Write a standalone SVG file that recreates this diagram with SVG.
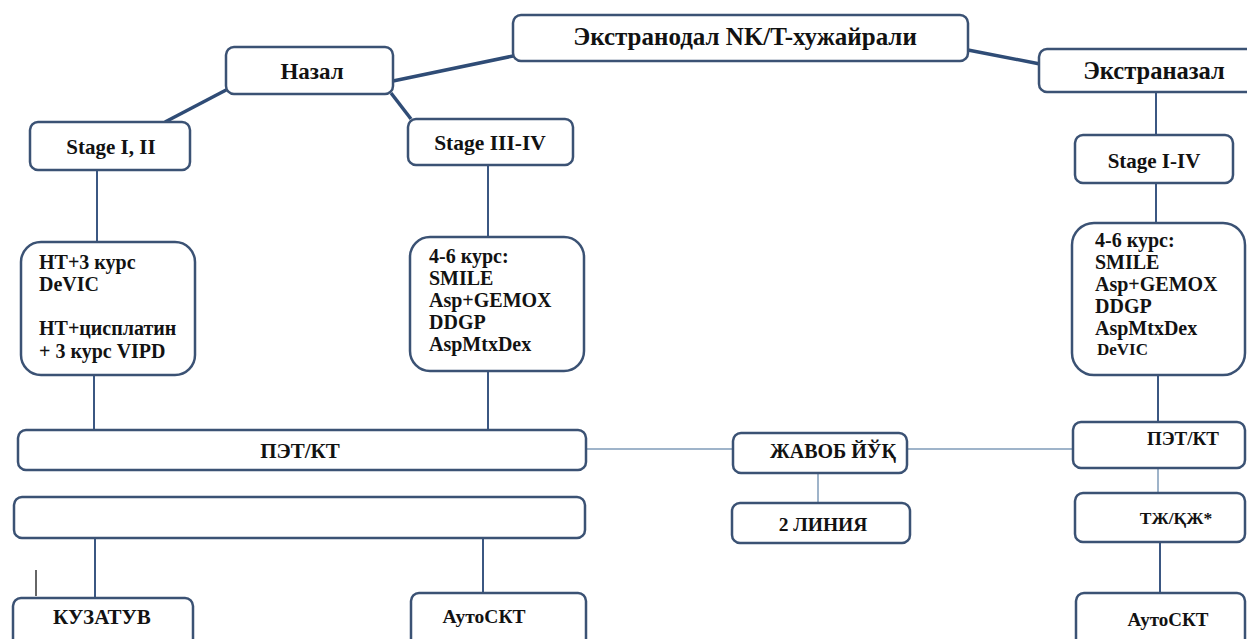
<svg xmlns="http://www.w3.org/2000/svg" width="1247" height="639" viewBox="0 0 1247 639">
  <style>
    .box { fill: #ffffff; stroke: #3b5274; stroke-width: 2.5; }
    .lbl { font-family: "Liberation Serif", "Times New Roman", serif; font-weight: bold; fill: #121212; }
    .c { text-anchor: middle; }
    .thick { stroke: #2f4c76; stroke-width: 3.5; fill: none; }
    .thin { stroke: #3b5782; stroke-width: 2; fill: none; }
    .light { stroke: #9fb4ca; stroke-width: 2; fill: none; }
  </style>
  <rect width="1247" height="639" fill="#ffffff"/>

  <!-- connectors -->
  <g id="connectors">
    <line class="thick" x1="393" y1="81" x2="513" y2="56"/>
    <line class="thick" x1="968" y1="50" x2="1040" y2="64"/>
    <line class="thick" x1="228" y1="89" x2="165" y2="122"/>
    <line class="thick" x1="391" y1="93" x2="411" y2="119"/>
    <line class="thin" x1="97" y1="170" x2="97" y2="242"/>
    <line class="thin" x1="488" y1="165" x2="488" y2="237"/>
    <line class="thin" x1="1156" y1="92" x2="1156" y2="135"/>
    <line class="thin" x1="1156" y1="183" x2="1156" y2="223"/>
    <line class="thin" x1="94" y1="375" x2="94" y2="430"/>
    <line class="thin" x1="488" y1="371" x2="488" y2="430"/>
    <line class="thin" x1="1158" y1="375" x2="1158" y2="422"/>
    <line class="light" x1="586" y1="449" x2="733" y2="449"/>
    <line class="light" x1="907" y1="449" x2="1073" y2="449"/>
    <line class="light" x1="818" y1="473" x2="818" y2="503"/>
    <line class="light" x1="1158" y1="468" x2="1158" y2="493"/>
    <line class="thin" x1="1160" y1="542" x2="1160" y2="593"/>
    <line class="thin" x1="95" y1="538" x2="95" y2="598"/>
    <line class="thin" x1="483" y1="538" x2="483" y2="593"/>
    <line stroke="#333333" stroke-width="1.5" x1="36" y1="570" x2="36" y2="596"/>
  </g>

  <g id="n-extranodal">
    <rect class="box" x="513" y="15" width="455" height="46" rx="8"/>
    <text class="lbl c" x="745" y="45" font-size="25">Экстранодал NK/T-хужайрали</text>
  </g>
  <g id="n-nasal">
    <rect class="box" x="226" y="47" width="167" height="47" rx="8"/>
    <text class="lbl c" x="312" y="79" font-size="23">Назал</text>
  </g>
  <g id="n-extranasal">
    <rect class="box" x="1039" y="49" width="220" height="43" rx="8"/>
    <text class="lbl c" x="1154" y="79" font-size="24.5">Экстраназал</text>
  </g>
  <g id="n-stage12">
    <rect class="box" x="30" y="122" width="160" height="48" rx="8"/>
    <text class="lbl c" x="111" y="154" font-size="21">Stage I, II</text>
  </g>
  <g id="n-stage34">
    <rect class="box" x="408" y="119" width="165" height="46" rx="8"/>
    <text class="lbl c" x="490" y="150" font-size="21.5">Stage III-IV</text>
  </g>
  <g id="n-stage14">
    <rect class="box" x="1075" y="135" width="158" height="48" rx="8"/>
    <text class="lbl c" x="1154" y="168" font-size="21">Stage I-IV</text>
  </g>

  <g id="n-rt-chemo">
    <rect class="box" x="21" y="242" width="174" height="133" rx="20"/>
    <text class="lbl" font-size="20">
      <tspan x="39" y="269">НТ+3 курс</tspan>
      <tspan x="39" y="291">DeVIC</tspan>
      <tspan x="39" y="335">НТ+цисплатин</tspan>
      <tspan x="39" y="358">+ 3 курс VIPD</tspan>
    </text>
  </g>
  <g id="n-regimens-nasal">
    <rect class="box" x="410" y="237" width="174" height="134" rx="20"/>
    <text class="lbl" font-size="20">
      <tspan x="429" y="263">4-6 курс:</tspan>
      <tspan x="429" y="285">SMILE</tspan>
      <tspan x="429" y="307">Asp+GEMOX</tspan>
      <tspan x="429" y="329">DDGP</tspan>
      <tspan x="429" y="351">AspMtxDex</tspan>
    </text>
  </g>
  <g id="n-regimens-extranasal">
    <rect class="box" x="1072" y="223" width="173" height="152" rx="22"/>
    <text class="lbl" font-size="20">
      <tspan x="1095" y="247">4-6 курс:</tspan>
      <tspan x="1095" y="269">SMILE</tspan>
      <tspan x="1095" y="291">Asp+GEMOX</tspan>
      <tspan x="1095" y="313">DDGP</tspan>
      <tspan x="1095" y="335">AspMtxDex</tspan>
      <tspan x="1097" y="355" font-size="17">DeVIC</tspan>
    </text>
  </g>

  <g id="n-pet-left">
    <rect class="box" x="18" y="430" width="568" height="40" rx="8"/>
    <text class="lbl c" x="300" y="458" font-size="21">ПЭТ/КТ</text>
  </g>
  <g id="n-empty">
    <rect class="box" x="14" y="497" width="571" height="41" rx="8"/>
  </g>
  <g id="n-followup">
    <rect class="box" x="13" y="598" width="180" height="50" rx="8"/>
    <text class="lbl c" x="102" y="624" font-size="21">КУЗАТУВ</text>
  </g>
  <g id="n-autosct-left">
    <rect class="box" x="411" y="593" width="175" height="55" rx="8"/>
    <text class="lbl c" x="484" y="623" font-size="19.5">АутоСКТ</text>
  </g>

  <g id="n-noresponse">
    <rect class="box" x="733" y="433" width="174" height="40" rx="8"/>
    <text class="lbl c" x="833" y="458" font-size="20">ЖАВОБ ЙЎҚ</text>
  </g>
  <g id="n-second-line">
    <rect class="box" x="732" y="503" width="178" height="40" rx="8"/>
    <text class="lbl c" x="823" y="531" font-size="19.5">2 ЛИНИЯ</text>
  </g>

  <g id="n-pet-right">
    <rect class="box" x="1073" y="422" width="172" height="46" rx="8"/>
    <text class="lbl c" x="1183" y="445" font-size="19">ПЭТ/КТ</text>
  </g>
  <g id="n-response">
    <rect class="box" x="1075" y="493" width="170" height="49" rx="8"/>
    <text class="lbl c" x="1176" y="524" font-size="17.5">ТЖ/ҚЖ*</text>
  </g>
  <g id="n-autosct-right">
    <rect class="box" x="1076" y="593" width="169" height="55" rx="8"/>
    <text class="lbl c" x="1168" y="626" font-size="19">АутоСКТ</text>
  </g>
</svg>
